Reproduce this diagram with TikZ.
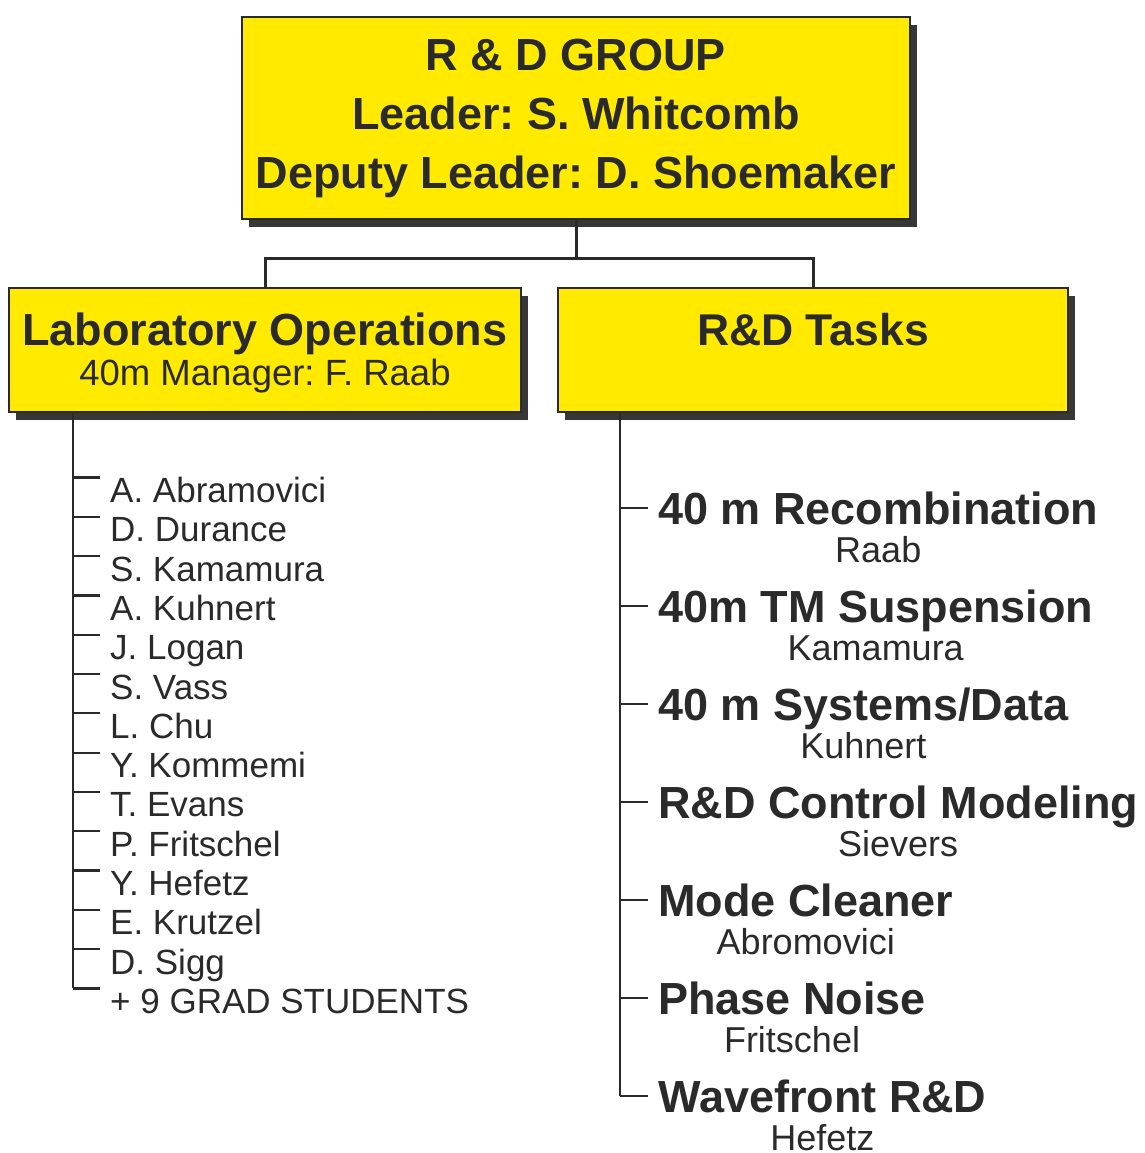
\documentclass[tikz,border=0pt]{standalone}
\usepackage{fontspec}
\setmainfont{Liberation Sans}
\usetikzlibrary{calc,shadows}
\definecolor{boxyellow}{RGB}{255,234,0}
\definecolor{ink}{RGB}{42,42,42}
\definecolor{shade}{RGB}{55,55,55}
\newcommand{\bigbold}{\fontsize{45}{59}\selectfont\bfseries}
\newcommand{\taskfont}{\fontsize{45}{50}\selectfont\bfseries}
\newcommand{\namefont}{\fontsize{35}{40}\selectfont}
\newcommand{\leadfont}{\fontsize{36}{40}\selectfont}
\frenchspacing
\begin{document}
\begin{tikzpicture}[x=1pt,y=-1pt,
  box/.style={draw=ink, line width=2.5pt, fill=boxyellow, inner sep=0pt,
    align=center, text=ink,
    drop shadow={shadow xshift=7pt, shadow yshift=-8pt, fill=shade, opacity=1}},
  wire/.style={draw=ink, line width=3pt},
  tick/.style={draw=ink, line width=2.2pt},
  boxtext/.style={inner sep=0pt, text=ink, anchor=base},
  member/.style={inner xsep=10pt, inner ysep=0pt, text=ink, anchor=base west, font=\namefont},
  task/.style={inner xsep=10pt, inner ysep=0pt, text=ink, anchor=base west, font=\taskfont},
  lead/.style={inner sep=0pt, text=ink, anchor=base, font=\leadfont}]

\fill[white] (0,0) rectangle (1144,1153);
\useasboundingbox (0,0) rectangle (1144,1153);

% group box
\node[box, minimum width=668, minimum height=202, font=\bigbold] (top) at (576,118)
  {R \& D GROUP\\Leader: S. Whitcomb\\Deputy Leader: D. Shoemaker};

% the two branch boxes
\node[box, minimum width=512, minimum height=124] (lab) at (265,350) {};
\node[boxtext, font={\fontsize{45}{50}\selectfont\bfseries}] (labtitle)
  at ($(lab.north)+(0,59)$) {Laboratory Operations};
\node[boxtext, font={\fontsize{36.5}{40}\selectfont}] (labmgr)
  at ($(lab.north)+(0,99)$) {40m Manager: F. Raab};

\node[box, minimum width=510, minimum height=124] (rd) at (813,350) {};
\node[boxtext, font={\fontsize{44.5}{50}\selectfont\bfseries}] (rdtitle)
  at ($(rd.north)+(0,59)$) {R\&D Tasks};

% group box to branches
\draw[wire] (top.south) -- ($(top.south)+(0,38)$) coordinate (split);
\draw[wire] (lab.north) |- (split) -| (rd.north);

% laboratory staff list
\coordinate (ltop) at ($(lab.south west)+(65,0)$);
\foreach \who [count=\i from 0] in {A. Abramovici, D. Durance, S. Kamamura,
    A. Kuhnert, J. Logan, S. Vass, L. Chu, Y. Kommemi, T. Evans,
    P. Fritschel, Y. Hefetz, E. Krutzel, D. Sigg, + 9 GRAD STUDENTS}{
  \node[member] (m\i) at (100,{502.5+39.3*\i}) {\who};
  \coordinate (k\i) at ($(m\i.base west)+(0,-25)$);
  \draw[tick] (ltop |- k\i) -- (k\i);
}
\draw[tick] (ltop) -- (ltop |- k13);

% R&D task list
\coordinate (rtop) at ($(rd.south west)+(63,0)$);
\foreach \job/\who [count=\i from 0] in {
    40 m Recombination/Raab, 40m TM Suspension/Kamamura,
    40 m Systems{/}Data/Kuhnert, R\&D Control Modeling/Sievers,
    Mode Cleaner/Abromovici, Phase Noise/Fritschel, Wavefront R\&D/Hefetz}{
  \node[task] (h\i) at (648,{524.1+98*\i}) {\job};
  \node[lead] (s\i) at ($(h\i.base)+(0,38.5)$) {\who};
  \coordinate (j\i) at ($(h\i.base west)+(0,-16.1)$);
  \draw[tick] (rtop |- j\i) -- (j\i);
}
\draw[tick] (rtop) -- (rtop |- j6);
\end{tikzpicture}
\end{document}
